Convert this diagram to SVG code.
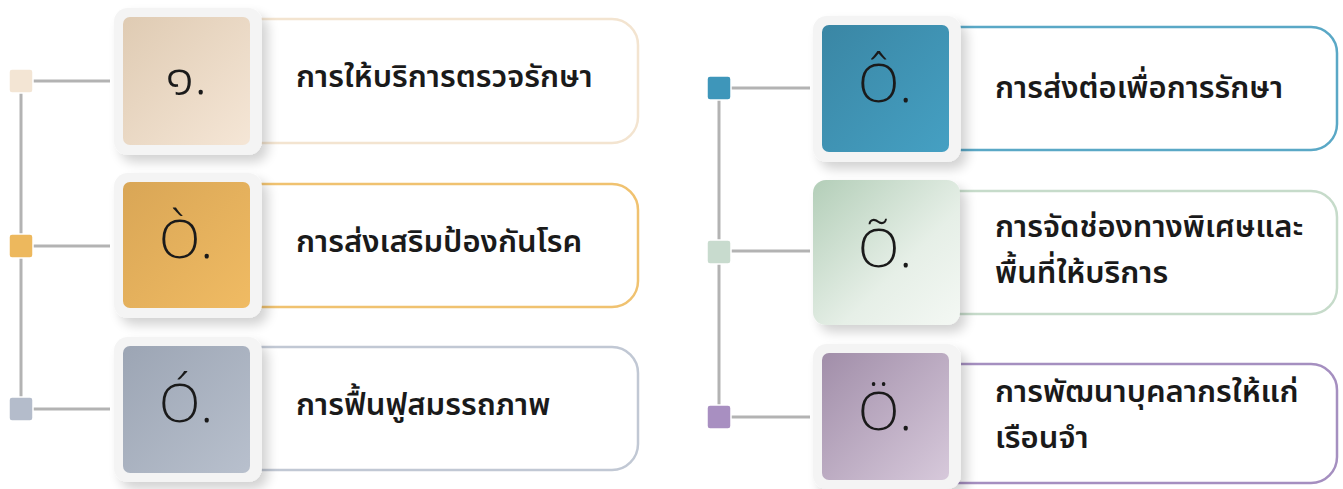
<svg xmlns="http://www.w3.org/2000/svg" width="1343" height="489" viewBox="0 0 1343 489">
<style>
.lbl{font-family:"Noto Sans Thai","Noto Sans Thai UI","Loma","Garuda","Noto Sans",sans-serif;font-size:31px;font-weight:600;fill:#1a1a1a}
.num{font-family:"Open Sans","Liberation Sans","Noto Sans Thai",sans-serif;font-size:54px;font-weight:300;fill:#1a1a1a;text-anchor:middle}
.frame{fill:#f4f4f4;filter:url(#sh)}
.box{fill:#ffffff;stroke-width:2.5}
.con{stroke:#b3b3b3;stroke-width:3;fill:none}
.dot{stroke:#ffffff;stroke-width:1.5}
</style>
<defs>
<filter id="sh" x="-20%" y="-20%" width="150%" height="150%">
<feGaussianBlur in="SourceAlpha" stdDeviation="6"/>
<feOffset dx="6" dy="7" result="b"/>
<feComponentTransfer><feFuncA type="linear" slope="0.18"/></feComponentTransfer>
<feMerge><feMergeNode/><feMergeNode in="SourceGraphic"/></feMerge>
</filter>
<linearGradient id="g1" x1="0" y1="0" x2="1" y2="1"><stop offset="0" stop-color="#dfcbb3"/><stop offset="1" stop-color="#f5e6d6"/></linearGradient>
<linearGradient id="g2" x1="0" y1="0" x2="1" y2="1"><stop offset="0" stop-color="#d9a656"/><stop offset="1" stop-color="#f0bb63"/></linearGradient>
<linearGradient id="g3" x1="0" y1="0" x2="1" y2="1"><stop offset="0" stop-color="#9ca5b4"/><stop offset="1" stop-color="#b8c0cd"/></linearGradient>
<linearGradient id="g4" x1="0" y1="0" x2="1" y2="1"><stop offset="0" stop-color="#3a86a4"/><stop offset="1" stop-color="#45a0c3"/></linearGradient>
<linearGradient id="g5" x1="0" y1="0" x2="1" y2="1"><stop offset="0" stop-color="#b3ceb8"/><stop offset="0.6" stop-color="#e6efe7"/><stop offset="1" stop-color="#f4f8f4"/></linearGradient>
<linearGradient id="g6" x1="0" y1="0" x2="1" y2="1"><stop offset="0" stop-color="#a18ea9"/><stop offset="1" stop-color="#d7c9db"/></linearGradient>
</defs>

<g id="connectors">
<line class="con" x1="21" y1="92" x2="21" y2="398"/>
<line class="con" x1="33" y1="81" x2="110" y2="81"/>
<line class="con" x1="33" y1="246" x2="110" y2="246"/>
<line class="con" x1="33" y1="409" x2="110" y2="409"/>
<line class="con" x1="719" y1="100" x2="719" y2="405"/>
<line class="con" x1="731" y1="88" x2="810" y2="88"/>
<line class="con" x1="731" y1="251" x2="810" y2="251"/>
<line class="con" x1="731" y1="417" x2="810" y2="417"/>
<rect class="dot" x="9" y="69" width="24" height="24" rx="3" fill="#f3e5d4"/>
<rect class="dot" x="9" y="234" width="24" height="24" rx="3" fill="#edb85d"/>
<rect class="dot" x="9" y="397" width="24" height="24" rx="3" fill="#b4bccb"/>
<rect class="dot" x="707" y="76" width="24" height="24" rx="3" fill="#3e96ba"/>
<rect class="dot" x="707" y="240" width="24" height="24" rx="3" fill="#c8dbce"/>
<rect class="dot" x="707" y="405" width="24" height="24" rx="3" fill="#a88fc1"/>
</g>

<g id="node1">
<rect class="box" x="200" y="19" width="438" height="124" rx="26" stroke="#f3e4d0"/>
<rect class="frame" x="114" y="8" width="148" height="147" rx="14"/>
<rect x="123" y="17" width="127" height="128" rx="7" fill="url(#g1)"/>
<text class="num" x="186" y="94">๑.</text>
<text class="lbl" x="296" y="87">การให้บริการตรวจรักษา</text>
</g>

<g id="node2">
<rect class="box" x="200" y="184" width="438" height="123" rx="26" stroke="#f0c270"/>
<rect class="frame" x="114" y="173" width="148" height="145" rx="14"/>
<rect x="123" y="182" width="127" height="126" rx="7" fill="url(#g2)"/>
<text class="num" x="186" y="258">Ò.</text>
<text class="lbl" x="296" y="252">การส่งเสริมป้องกันโรค</text>
</g>

<g id="node3">
<rect class="box" x="200" y="347" width="438" height="123" rx="26" stroke="#c1c8d4"/>
<rect class="frame" x="114" y="337" width="148" height="145" rx="14"/>
<rect x="123" y="346" width="127" height="127" rx="7" fill="url(#g3)"/>
<text class="num" x="186" y="422">Ó.</text>
<text class="lbl" x="296" y="415">การฟื้นฟูสมรรถภาพ</text>
</g>

<g id="node4">
<rect class="box" x="900" y="27" width="437" height="123" rx="26" stroke="#5aa8c6"/>
<rect class="frame" x="813" y="16" width="148" height="146" rx="14"/>
<rect x="822" y="25" width="127" height="127" rx="7" fill="url(#g4)"/>
<text class="num" x="885" y="102">Ô.</text>
<text class="lbl" x="995" y="98">การส่งต่อเพื่อการรักษา</text>
</g>

<g id="node5">
<rect class="box" x="900" y="191" width="437" height="123" rx="26" stroke="#c6dbca"/>
<rect class="frame" x="813" y="180" width="147" height="145" rx="13" style="fill:url(#g5)"/>
<text class="num" x="885" y="267">Õ.</text>
<text class="lbl" x="995" y="237">การจัดช่องทางพิเศษและ</text>
<text class="lbl" x="995" y="283">พื้นที่ให้บริการ</text>
</g>

<g id="node6">
<rect class="box" x="900" y="364" width="437" height="119" rx="26" stroke="#a58fc0"/>
<rect class="frame" x="813" y="344" width="148" height="145" rx="14"/>
<rect x="822" y="353" width="127" height="127" rx="7" fill="url(#g6)"/>
<text class="num" x="885" y="430">Ö.</text>
<text class="lbl" x="995" y="402">การพัฒนาบุคลากรให้แก่</text>
<text class="lbl" x="995" y="448">เรือนจำ</text>
</g>
</svg>
